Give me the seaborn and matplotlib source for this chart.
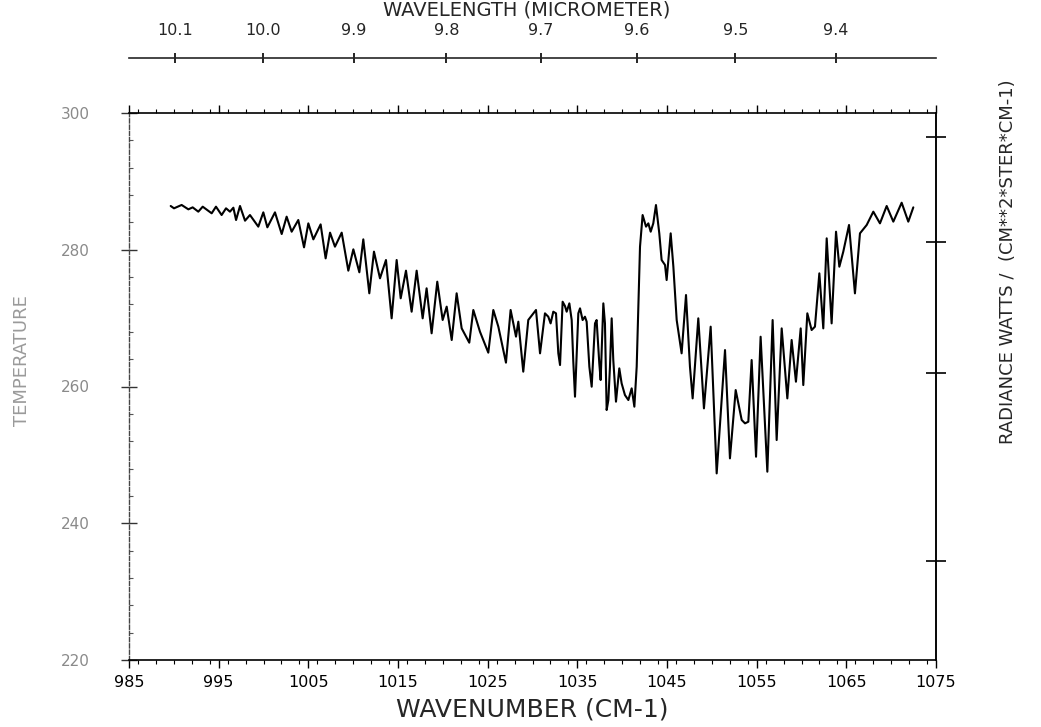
import numpy as np
import pandas as pd
import matplotlib
matplotlib.use("Agg")
import matplotlib.pyplot as plt
from matplotlib.ticker import MultipleLocator
import seaborn as sns

# Measured spectrum: wavenumber (cm-1) and brightness temperature (K)
wavenumber = [
    989.65, 990.02, 990.87, 991.62, 992.10, 992.73, 993.22, 994.22, 994.70, 995.33,
    995.82, 996.26, 996.64, 996.94, 997.38, 997.94, 998.49, 999.42, 999.98, 1000.43,
    1001.28, 1002.03, 1002.58, 1003.14, 1003.88, 1004.52, 1005.00, 1005.56, 1006.37, 1006.93,
    1007.42, 1007.97, 1008.72, 1009.46, 1010.02, 1010.69, 1011.13, 1011.80, 1012.32, 1012.99,
    1013.66, 1014.29, 1014.85, 1015.30, 1015.89, 1016.52, 1017.08, 1017.75, 1018.19, 1018.75,
    1019.38, 1019.98, 1020.43, 1020.99, 1021.54, 1022.10, 1022.95, 1023.40, 1024.14, 1025.07,
    1025.63, 1026.19, 1027.04, 1027.56, 1028.16, 1028.42, 1028.97, 1029.53, 1030.39, 1030.84,
    1031.39, 1031.76, 1032.02, 1032.32, 1032.62, 1032.88, 1033.07, 1033.36, 1033.62, 1033.81,
    1034.11, 1034.37, 1034.55, 1034.74, 1035.11, 1035.30, 1035.59, 1035.85, 1036.04, 1036.34,
    1036.60, 1036.97, 1037.15, 1037.45, 1037.60, 1037.90, 1038.08, 1038.27, 1038.46, 1038.64,
    1038.83, 1039.01, 1039.31, 1039.68, 1039.94, 1040.31, 1040.69, 1041.06, 1041.36, 1041.62,
    1041.84, 1041.99, 1042.28, 1042.66, 1042.92, 1043.18, 1043.47, 1043.77, 1044.14, 1044.40,
    1044.78, 1044.96, 1045.41, 1045.71, 1046.08, 1046.63, 1047.12, 1047.56, 1047.86, 1048.49,
    1049.12, 1049.87, 1050.54, 1051.47, 1052.02, 1052.66, 1053.33, 1053.70, 1054.07, 1054.44,
    1054.93, 1055.44, 1056.19, 1056.78, 1057.23, 1057.79, 1058.42, 1058.90, 1059.38, 1059.91,
    1060.20, 1060.65, 1061.13, 1061.50, 1061.99, 1062.43, 1062.81, 1063.36, 1063.85, 1064.22,
    1064.66, 1065.30, 1065.96, 1066.52, 1067.27, 1068.01, 1068.75, 1069.50, 1070.24, 1071.17,
    1071.91, 1072.47,
]
temperature = [
    286.40, 286.06, 286.55, 285.91, 286.20, 285.57, 286.30, 285.33, 286.30, 285.08,
    286.06, 285.57, 286.15, 284.35, 286.40, 284.25, 285.08, 283.38, 285.47, 283.28,
    285.47, 282.30, 284.84, 282.64, 284.35, 280.35, 283.86, 281.52, 283.71, 278.74,
    282.50, 280.45, 282.50, 276.94, 280.06, 276.70, 281.52, 273.63, 279.72, 275.82,
    278.50, 269.97, 278.50, 272.90, 276.94, 270.94, 276.94, 269.97, 274.36, 267.78,
    275.33, 269.73, 271.68, 266.80, 273.63, 268.51, 266.41, 271.19, 268.02, 264.95,
    271.19, 268.75, 263.49, 271.19, 267.29, 269.48, 262.17, 269.73, 271.19, 264.85,
    270.70, 270.21, 269.23, 270.94, 270.70, 264.85, 263.14, 272.40, 271.77, 270.94,
    272.16, 269.72, 263.63, 258.51, 270.70, 271.43, 269.72, 270.21, 269.48, 262.90,
    259.97, 269.23, 269.72, 263.38, 260.95, 272.16, 269.23, 256.56, 258.02, 262.90,
    269.97, 263.87, 257.78, 262.65, 260.46, 258.75, 258.02, 259.73, 257.05, 262.90,
    273.14, 280.45, 285.08, 283.38, 283.86, 282.64, 283.86, 286.54, 282.40, 278.50,
    277.77, 275.57, 282.40, 277.52, 269.72, 264.85, 273.38, 262.90, 258.26, 269.97,
    256.80, 268.75, 247.29, 265.33, 249.49, 259.48, 255.10, 254.61, 254.85, 263.87,
    249.73, 267.28, 247.54, 269.72, 252.17, 268.50, 258.26, 266.80, 260.70, 268.50,
    260.21, 270.70, 268.26, 268.75, 276.55, 268.50, 281.67, 269.23, 282.64, 277.52,
    279.72, 283.62, 273.62, 282.40, 283.62, 285.57, 283.86, 286.40, 284.11, 286.88,
    284.11, 286.20,
]

# Axis ticks
wn_major = [985, 995, 1005, 1015, 1025, 1035, 1045, 1055, 1065, 1075]
temp_ticks = [220, 240, 260, 280, 300]
wavelength_ticks = [10.1, 10.0, 9.9, 9.8, 9.7, 9.6, 9.5, 9.4]
radiance_ticks = [2e-6, 4e-6, 6e-6, 8e-6]   # W / (cm2 sr cm-1)

# Planck radiance at a reference wavenumber for the right-hand scale
C1 = 1.191042e-12   # W cm2 sr-1
C2 = 1.4387752      # K cm
NU_REF = 1079.0


def temp_to_radiance(t):
    t = np.clip(np.asarray(t, dtype=float), 1.0, None)
    return C1 * NU_REF ** 3 / np.expm1(C2 * NU_REF / t)


def radiance_to_temp(b):
    b = np.clip(np.asarray(b, dtype=float), 1e-30, None)
    return C2 * NU_REF / np.log1p(C1 * NU_REF ** 3 / b)


def wn_to_um(w):
    w = np.asarray(w, dtype=float)
    return 1e4 / np.where(w == 0, 1e-9, w)


sns.set_theme(style="white")
plt.rcParams["font.family"] = ["DejaVu Sans"]

df = pd.DataFrame({"wavenumber": wavenumber, "temperature": temperature})

W, H = 1041, 727
fig = plt.figure(figsize=(W / 100, H / 100), dpi=100)
ax = fig.add_axes([129 / W, 1 - 660 / H, (936 - 129) / W, (660 - 113) / H])

sns.lineplot(data=df, x="wavenumber", y="temperature", ax=ax, sort=False,
             estimator=None, color="black", linewidth=1.5)

ax.set_xlim(985, 1075)
ax.set_ylim(220, 300)

for side in ("top", "right", "bottom"):
    ax.spines[side].set_color("black")
    ax.spines[side].set_linewidth(1.2)
ax.spines["left"].set_color("#444444")
ax.spines["left"].set_linewidth(1.0)
ax.spines["left"].set_linestyle((0, (3, 1.5)))

# bottom axis: wavenumber
ax.set_xticks(wn_major, labels=[str(v) for v in wn_major])
ax.xaxis.set_minor_locator(MultipleLocator(2))
ax.tick_params(axis="x", which="major", direction="out", length=6, width=1,
               color="black", labelsize=11.5, pad=5, top=True, bottom=True,
               labelcolor="black")
ax.tick_params(axis="x", which="minor", direction="out", length=3, width=0.8,
               color="black", top=True, bottom=True)
ax.set_xlabel("")
fig.text(532 / W, 1 - 716 / H, "WAVENUMBER (CM-1)", ha="center",
         va="baseline", fontsize=18)

# left axis: temperature
ax.set_yticks(temp_ticks, labels=[str(v) for v in temp_ticks])
ax.yaxis.set_minor_locator(MultipleLocator(4))
ax.tick_params(axis="y", which="major", direction="inout", length=12, width=1,
               color="#333333", labelsize=11, pad=22, labelcolor="#8a8a8a",
               right=False, left=True)
ax.tick_params(axis="y", which="minor", direction="in", length=3, width=0.8,
               color="#555555", right=False, left=True)
ax.set_ylabel("TEMPERATURE", fontsize=13, color="#9a9a9a")
ax.yaxis.set_label_coords((31 - 129) / (936 - 129), (660 - 361) / (660 - 113))

# right axis: radiance scale (unlabelled ticks)
rax = ax.secondary_yaxis("right", functions=(temp_to_radiance, radiance_to_temp))
rax.set_yticks(radiance_ticks, labels=[""] * len(radiance_ticks))
rax.tick_params(axis="y", which="major", direction="inout", length=14, width=1.2,
                color="black")
rax.tick_params(axis="y", which="minor", length=0)
rax.spines["right"].set_linewidth(1.2)
fig.text(1008 / W, 1 - 262 / H, "RADIANCE WATTS /  (CM**2*STER*CM-1)",
         rotation=90, ha="center", va="center", fontsize=13)

# detached top axis: wavelength in micrometres
tax = ax.secondary_xaxis(1.1, functions=(wn_to_um, wn_to_um))
tax.set_xticks(wavelength_ticks, labels=[f"{v:.1f}" for v in wavelength_ticks])
tax.tick_params(axis="x", which="major", direction="inout", length=7, width=1.2,
                color="black", labelsize=11.5, pad=11)
tax.tick_params(axis="x", which="minor", length=0)
tax.spines["top"].set_linewidth(1.2)
fig.text(527 / W, 1 - 16 / H, "WAVELENGTH (MICROMETER)", ha="center",
         va="baseline", fontsize=14)

fig.savefig("out.png", dpi=100, facecolor="white")
